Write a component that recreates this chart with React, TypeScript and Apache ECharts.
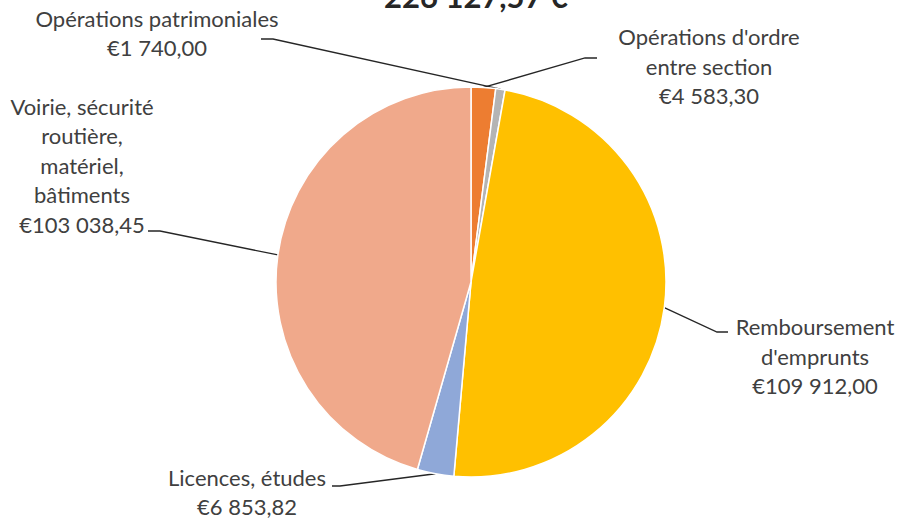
import React, { useEffect, useRef } from "react";
import * as echarts from "echarts";

const categories = [
  "Opérations d'ordre\nentre section",
  "Opérations patrimoniales",
  "Remboursement\nd'emprunts",
  "Licences, études",
  "Voirie, sécurité\nroutière,\nmatériel,\nbâtiments",
];
const values = [4583.3, 1740.0, 109912.0, 6853.82, 103038.45];
const colors = ["#ED7D31", "#B4B4B4", "#FFC000", "#8FA8D8", "#F0A98B"];
const titleText = "226 127,57 €";

// label layout (center x, center y, bend point, end point)
const labelPos = [
  { x: 709, y: 66, bend: [585, 58], end: [597, 58] },
  { x: 157, y: 33, bend: [273, 39], end: [261, 39] },
  { x: 815, y: 356, bend: [717, 332], end: [728, 332] },
  { x: 247, y: 492, bend: [340, 486], end: [332, 486] },
  { x: 82, y: 165, bend: [160, 231], end: [148, 231] },
];

function fmt(v: number): string {
  const [intPart, dec] = v.toFixed(2).split(".");
  const withSpaces = intPart.replace(/\B(?=(\d{3})+(?!\d))/g, " ");
  return "€" + withSpaces + "," + dec;
}

export default function App() {
  const ref = useRef<HTMLDivElement>(null);
  useEffect(() => {
    if (!ref.current) return;
    const chart = echarts.init(ref.current, undefined, { renderer: "svg" });
    chart.setOption({
      animation: false,
      backgroundColor: "#FFFFFF",
      graphic: [
        {
          type: "text",
          x: 476,
          y: 11,
          style: {
            text: titleText,
            font: "bold 31px Lato",
            fill: "#262626",
            align: "center",
            verticalAlign: "bottom",
          },
        },
      ],
      series: [
        {
          type: "pie",
          center: [471, 282],
          radius: 195,
          startAngle: 90,
          clockwise: true,
          data: categories.map((name, i) => ({
            name,
            value: values[i],
            itemStyle: { color: colors[i] },
          })),
          itemStyle: { borderColor: "#FFFFFF", borderWidth: 1.5 },
          label: {
            show: true,
            position: "outside",
            formatter: (p: any) => p.name + "\n" + fmt(p.value),
            fontFamily: "Lato",
            fontSize: 22,
            lineHeight: 29.5,
            color: "#404040",
            align: "center",
          },
          labelLine: {
            show: true,
            length: 20,
            length2: 10,
            lineStyle: { color: "#262626", width: 1.3 },
          },
          labelLayout: (params: any) => {
            const i = params.dataIndex;
            const lp = labelPos[i];
            const p0 = params.labelLinePoints ? params.labelLinePoints[0] : lp.bend;
            return {
              x: lp.x,
              y: lp.y,
              align: "center",
              verticalAlign: "middle",
              labelLinePoints: [p0, lp.bend, lp.end],
            };
          },
        },
      ],
    });
    return () => chart.dispose();
  }, []);
  return (
    <div
      ref={ref}
      style={{ position: "absolute", left: 0, top: 0, width: 899, height: 520 }}
    />
  );
}
